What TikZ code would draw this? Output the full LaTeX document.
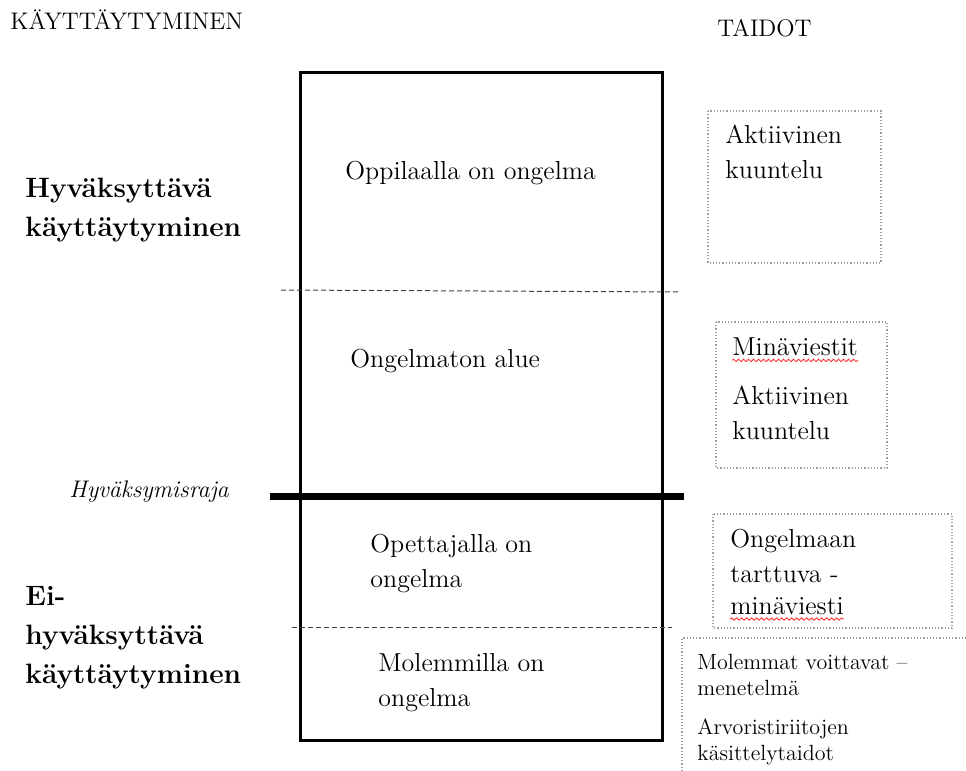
\documentclass[tikz,border=0pt]{standalone}
\usepackage{tikz}
\usetikzlibrary{positioning,decorations.pathmorphing}

\begin{document}
\begin{tikzpicture}[x=0.5pt, y=-0.5pt,
  head/.style={anchor=west, inner sep=0pt, font=\fontsize{12}{14}\selectfont},
  txt/.style={anchor=west, inner sep=0pt, align=left, font=\fontsize{13}{17.5}\selectfont},
  side/.style={anchor=west, inner sep=0pt, align=left, font=\fontsize{14}{19.5}\selectfont\bfseries},
  small/.style={anchor=west, inner sep=0pt, align=left, font=\fontsize{11}{13}\selectfont},
  skill/.style={draw=gray!75, densely dotted, line width=0.6pt},
  zone/.style={draw=gray!50!black, dash pattern=on 2.5pt off 1.5pt, line width=0.5pt},
  frame/.style={draw, line width=1.5pt},
  squiggle/.style={draw=red!85, line width=0.4pt, decorate, decoration={snake, amplitude=0.6pt, segment length=2.5pt}}
]
  \useasboundingbox (0,0) rectangle (966,771);

  % column headings
  \node[head] (behav) at (10,20) {KÄYTTÄYTYMINEN};
  \node[head] (skills) at (717,28) {TAIDOT};

  % the window
  \draw[frame] (300,72) rectangle (662,740);
  \draw[zone] (281,290) -- (680,292);
  \draw[zone] (292,627) -- (672,627);
  \draw[line width=3.5pt] (270,496) -- (684,496);

  \node[txt] (pupil) at (345,173) {Oppilaalla on ongelma};
  \node[txt] (free) at (350,361) {Ongelmaton alue};
  \node[txt] (teacher) at (370,564) {Opettajalla on\\ongelma};
  \node[txt] (both) at (378,683) {Molemmilla on\\ongelma};

  % left side
  \node[side] (accept) at (25,210) {Hyväksyttävä\\käyttäytyminen};
  \node[side] (reject) at (25,638) {Ei-\\hyväksyttävä\\käyttäytyminen};
  \node[inner sep=0pt, font=\fontsize{12}{14}\selectfont\itshape] (limit) at (149,492) {Hyväksymisraja};

  % skills
  \draw[skill] (708,111) rectangle (881,263);
  \node[txt] (listen1) at (725,152) {Aktiivinen\\kuuntelu};

  \draw[skill] (716,322) rectangle (887,468);
  \node[txt] (imsg) at (732,347) {Minäviestit};
  \node[txt] (listen2) at (732,413) {Aktiivinen\\kuuntelu};

  \draw[skill] (713,514) rectangle (952,628);
  \node[txt] (grab) at (730,556) {Ongelmaan\\tarttuva -};
  \node[txt] (imsg2) at (730,606) {minäviesti};

  \draw[skill] (682,771) -- (682,638) -- (966,638);
  \node[small] (winwin) at (697,675) {Molemmat voittavat –\\menetelmä};
  \node[small] (values) at (697,742) {Arvoristiriitojen\\käsittelytaidot};

  \draw[squiggle] ([yshift=-2pt]imsg.south west) -- ([yshift=-2pt]imsg.south east);
  \draw[squiggle] ([yshift=-2pt]imsg2.south west) -- ([yshift=-2pt]imsg2.south east);
\end{tikzpicture}
\end{document}
